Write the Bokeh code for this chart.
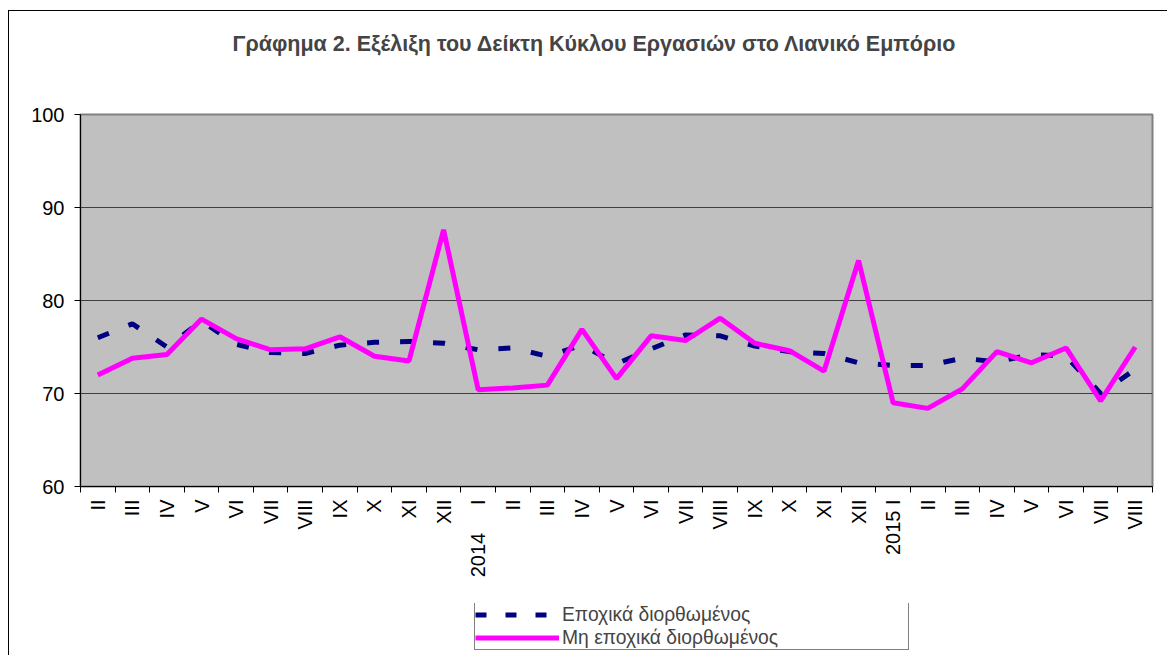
import math
from bokeh.plotting import figure
from bokeh.layouts import column
from bokeh.models import Range1d, FixedTicker, Legend, LegendItem, LinearAxis
from bokeh.embed import file_html
from bokeh.resources import INLINE

title_text = "Γράφημα 2. Εξέλιξη του Δείκτη Κύκλου Εργασιών στο Λιανικό Εμπόριο"

categories = ["II", "III", "IV", "V", "VI", "VII", "VIII", "IX", "X", "XI", "XII",
              "2014\u00a0\u00a0\u00a0\u00a0\u00a0I", "II", "III", "IV", "V", "VI", "VII", "VIII", "IX", "X", "XI", "XII",
              "2015\u00a0I", "II", "III", "IV", "V", "VI", "VII", "VIII"]

seasonally_adjusted = [76.0, 77.5, 75.0, 77.8, 75.3, 74.4, 74.3, 75.2, 75.5, 75.6, 75.4,
                       74.7, 74.9, 74.0, 75.2, 73.2, 74.8, 76.3, 76.2, 75.1, 74.5, 74.3, 73.3,
                       73.0, 73.0, 73.8, 73.4, 74.2, 74.0, 70.0, 72.6]

non_adjusted = [72.0, 73.8, 74.2, 78.0, 75.9, 74.7, 74.8, 76.1, 74.0, 73.5, 87.6,
                70.4, 70.6, 70.9, 76.9, 71.6, 76.2, 75.7, 78.1, 75.4, 74.6, 72.4, 84.3,
                69.0, 68.4, 70.5, 74.5, 73.3, 74.9, 69.2, 75.0]

y_ticks = [60, 70, 80, 90, 100]
series_names = ["Εποχικά διορθωμένος", "Μη εποχικά διορθωμένος"]

FONT = "Liberation Sans"
NAVY = "#000080"
MAGENTA = "#FF00FF"
xs = list(range(len(categories)))

p = figure(width=1167, height=603, output_backend="svg", toolbar_location=None,
           x_range=Range1d(-0.5, len(categories) - 0.5), y_range=Range1d(60, 100),
           min_border_left=80, min_border_right=15, min_border_top=114, min_border_bottom=117)
# thin outer chart border (top and left edges, as in the reference)
p.styles = {"background-image": "linear-gradient(#000, #000), linear-gradient(#000, #000)",
            "background-position": "8px 10px, 8px 10px",
            "background-size": "1px 100%, 100% 1px",
            "background-repeat": "no-repeat"}
p.border_fill_alpha = 0

xaxis = p.xaxis[0]
yaxis = p.yaxis[0]

# invisible axis that only reserves room between the frame and the title
p.add_layout(LinearAxis(ticker=FixedTicker(ticks=[xs[0]]), major_label_overrides={xs[0]: ""},
                        major_tick_out=59, major_tick_in=0, major_label_standoff=0,
                        axis_line_color=None, major_tick_line_color=None,
                        minor_tick_line_color=None, major_label_text_alpha=0), "above")

p.title.text = title_text
p.title.align = "left"
p.title.offset = 152
p.title.text_font = FONT
p.title.text_font_size = "21.5px"
p.title.text_font_style = "bold"
p.title.standoff = 0

p.background_fill_color = "#C0C0C0"
p.outline_line_color = "#808080"
p.outline_line_width = 2

# y axis
yaxis.ticker = FixedTicker(ticks=y_ticks)
yaxis.axis_line_color = "black"
yaxis.major_tick_in = 0
yaxis.major_tick_out = 6
yaxis.minor_tick_line_color = None
yaxis.major_label_text_font = FONT
yaxis.major_label_text_font_size = "20px"
yaxis.major_label_text_color = "black"
yaxis.major_label_standoff = 10

p.ygrid.ticker = FixedTicker(ticks=y_ticks)
p.ygrid.grid_line_color = "#404040"
p.ygrid.grid_line_width = 1
p.xgrid.grid_line_color = None

# x axis: labels at category centres, tick marks between categories
xaxis.ticker = FixedTicker(ticks=xs, minor_ticks=[i - 0.5 for i in range(len(categories) + 1)])
xaxis.major_label_overrides = {i: c for i, c in zip(xs, categories)}
xaxis.major_tick_line_color = None
xaxis.major_tick_in = 0
xaxis.major_tick_out = 6
xaxis.minor_tick_line_color = "black"
xaxis.minor_tick_in = 0
xaxis.minor_tick_out = 6
xaxis.axis_line_color = "black"
xaxis.major_label_orientation = math.pi / 2
xaxis.major_label_text_font = FONT
xaxis.major_label_text_font_size = "20px"
xaxis.major_label_text_color = "black"
xaxis.major_label_standoff = 7

p.line(xs, seasonally_adjusted, line_color=NAVY, line_width=5, line_dash="12 21")
p.line(xs, non_adjusted, line_color=MAGENTA, line_width=5)

# legend strip below the chart (its lines fall outside its own view, only the legend shows)
lg = figure(width=1167, height=52, output_backend="svg", toolbar_location=None,
            x_range=Range1d(-0.5, len(categories) - 0.5), y_range=Range1d(0, 1),
            x_axis_location=None, y_axis_location=None,
            min_border_left=0, min_border_right=0, min_border_top=0, min_border_bottom=0)
lg.styles = {"background-image": "linear-gradient(#000, #000)",
             "background-position": "8px 0px", "background-size": "1px 100%",
             "background-repeat": "no-repeat"}
lg.border_fill_alpha = 0
lg.background_fill_alpha = 0
lg.outline_line_color = None
lg.grid.visible = False
q1 = lg.line(xs, seasonally_adjusted, line_color=NAVY, line_width=5, line_dash="11 19")
q2 = lg.line(xs, non_adjusted, line_color=MAGENTA, line_width=5)

legend = Legend(items=[LegendItem(label=series_names[0], renderers=[q1]),
                       LegendItem(label=series_names[1], renderers=[q2])],
                location=(394, 5), orientation="vertical", margin=0,
                label_text_font=FONT, label_text_font_size="19.3px",
                glyph_width=84, glyph_height=23, label_height=23, label_standoff=3,
                label_width=346, spacing=0, padding=0,
                border_line_color="black", border_line_width=1,
                background_fill_color="white", background_fill_alpha=1)
lg.add_layout(legend, "center")

layout = column(p, lg, spacing=0)
open("out.html", "w").write(file_html(layout, INLINE))
